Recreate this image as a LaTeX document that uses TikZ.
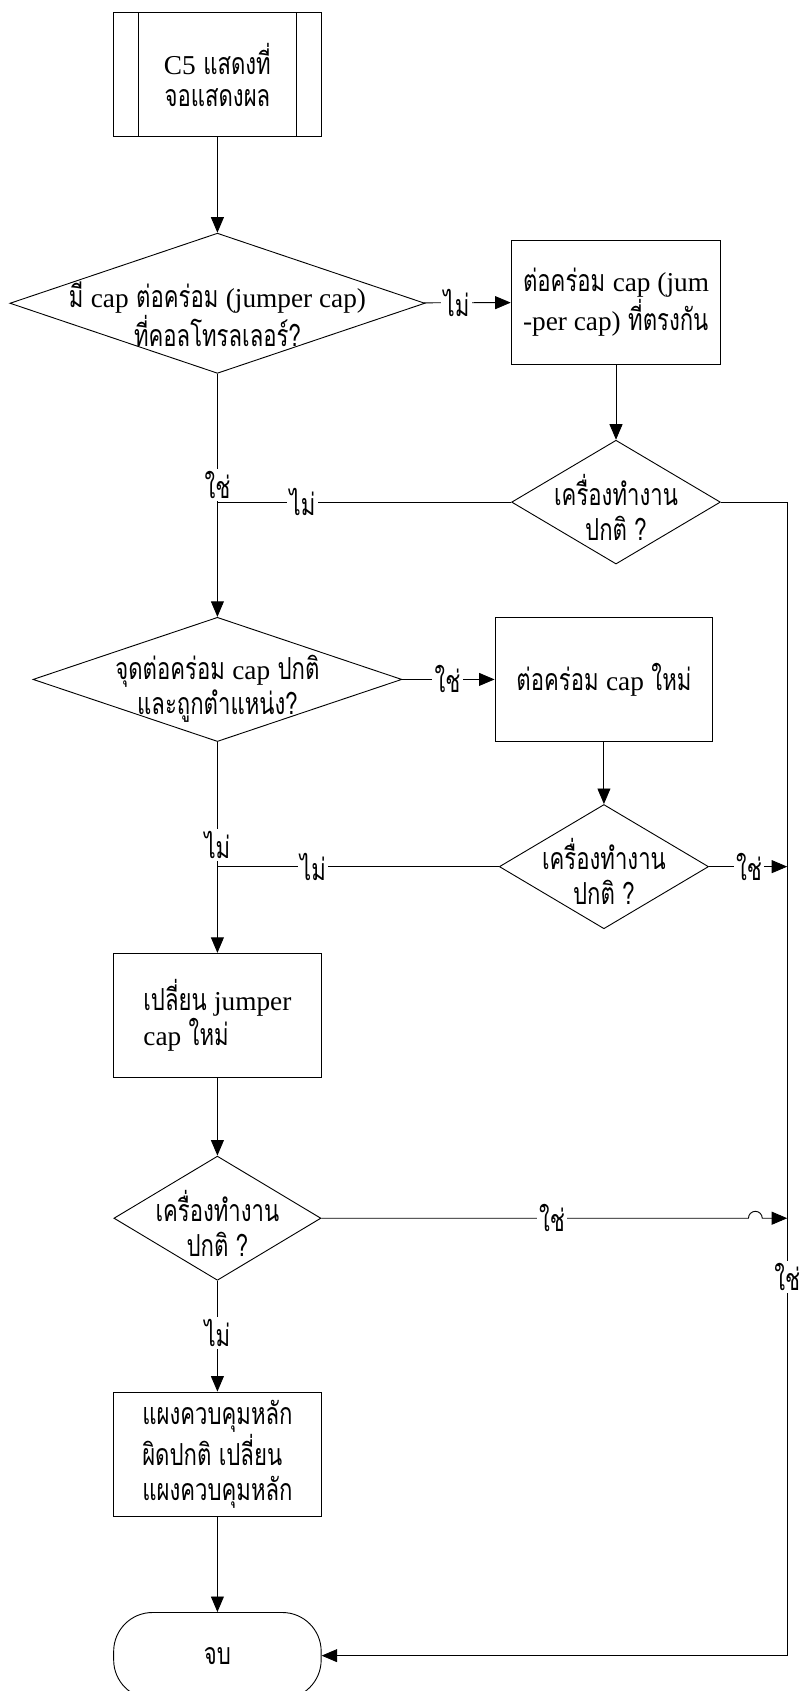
\documentclass[tikz,border=0pt]{standalone}
\usepackage{fontspec}
\setmainfont{Loma}[Script=Thai, FakeStretch=0.73]
\newfontfamily\latinfont{Liberation Serif}[Scale=0.9]
\usetikzlibrary{shapes.geometric,arrows.meta}
\newcommand{\eng}[1]{{\latinfont #1}}

\begin{document}
\begin{tikzpicture}[line width=0.6pt, >={Triangle[length=3.6mm,width=3mm]},
  font=\fontsize{20}{23}\selectfont,
  box/.style={draw, rectangle, minimum width=4.81cm, minimum height=2.88cm, inner sep=0pt, align=center},
  decision/.style={draw, diamond, inner sep=0pt},
  lab/.style={fill=white, inner sep=1.5pt}]

\useasboundingbox (0,0) rectangle (18.6,-39.2);

% left column
\node[box] (c5) at (5.04,-1.73) {\eng{C5} แสดงที่\\[-2pt]จอแสดงผล};
\draw ([xshift=0.575cm]c5.north west) -- ([xshift=0.575cm]c5.south west);
\draw ([xshift=-0.575cm]c5.north east) -- ([xshift=-0.575cm]c5.south east);

\node[decision, minimum width=9.62cm, minimum height=3.25cm] (d1) at (5.04,-7.03) {};
\node[align=center] (d1t) at ([yshift=-0.25cm]d1) {มี \eng{cap} ต่อคร่อม \eng{(jumper cap)}\\ที่คอลโทรลเลอร์?};

\node[decision, minimum width=8.55cm, minimum height=2.88cm] (d3) at (5.04,-15.75) {};
\node[align=center] (d3t) at ([yshift=-0.22cm]d3) {จุดต่อคร่อม \eng{cap} ปกติ\\และถูกตำแหน่ง?};

\node[box, align=left] (b4) at (5.04,-23.54) {เปลี่ยน \eng{jumper}\\\eng{cap} ใหม่};

\node[decision, minimum width=4.8cm, minimum height=2.88cm] (d5) at (5.04,-28.24) {};
\node[align=center] (d5t) at ([yshift=-0.12cm]d5) {เครื่องทำงาน\\ปกติ ?};

\node[box, align=left] (b5) at (5.04,-33.71) {แผงควบคุมหลัก\\ผิดปกติ เปลี่ยน\\แผงควบคุมหลัก};

\node[draw, rectangle, rounded corners=0.9cm, minimum width=4.81cm, minimum height=2cm] (stop) at (5.04,-38.38) {จบ};

% right column
\node[box, align=left, minimum width=4.86cm, minimum height=2.86cm] (b2) at (14.28,-7.01) {ต่อคร่อม \eng{cap (jum}\\\eng{-per cap)} ที่ตรงกัน};

\node[decision, minimum width=4.84cm, minimum height=2.87cm] (d2) at (14.28,-11.64) {};
\node[align=center] (d2t) at ([yshift=-0.12cm]d2) {เครื่องทำงาน\\ปกติ ?};

\node[box, minimum width=5.05cm] (b3) at (14.0,-15.75) {ต่อคร่อม \eng{cap} ใหม่};

\node[decision, minimum width=4.85cm, minimum height=2.88cm] (d4) at (14.0,-20.09) {};
\node[align=center] (d4t) at ([yshift=-0.12cm]d4) {เครื่องทำงาน\\ปกติ ?};

\coordinate (j1) at (d1 |- d2);
\coordinate (j2) at (d3 |- d4);
\coordinate (rtop) at (18.25,-11.64);
\coordinate (rbot) at (18.25,-38.38);
\coordinate (h5) at (17.35,-28.24);

% connectors
\draw[->] (c5) -- (d1);
\draw[->] (d1) -- node[lab, pos=0.375] {ไม่} (b2);
\draw[->] (b2) -- (d2);
\draw (d1) -- node[lab, pos=0.87] {ใช่} (j1);
\draw (d2) -- node[lab, pos=0.71] {ไม่} (j1);
\draw[->] (j1) -- (d3);
\draw[->] (d2) -- (rtop) -- node[lab, pos=0.672] {ใช่} (rbot) -- (stop);

\draw[->] (d3) -- node[lab, pos=0.49] {ใช่} (b3);
\draw[->] (b3) -- (d4);
\draw (d3) -- node[lab, pos=0.83] {ไม่} (j2);
\draw (d4) -- node[lab, pos=0.66] {ไม่} (j2);
\draw[->] (j2) -- (b4);
\draw[->] (d4) -- node[lab, pos=0.51] {ใช่} (d4 -| rtop);

\draw[->] (b4) -- (d5);
\draw[->] (d5) -- node[lab, pos=0.54] {ใช่} (h5) arc[start angle=180, end angle=0, radius=0.16cm] -- (d5 -| rtop);
\draw[->] (d5) -- node[lab, pos=0.47] {ไม่} (b5);
\draw[->] (b5) -- (stop);

\end{tikzpicture}
\end{document}
